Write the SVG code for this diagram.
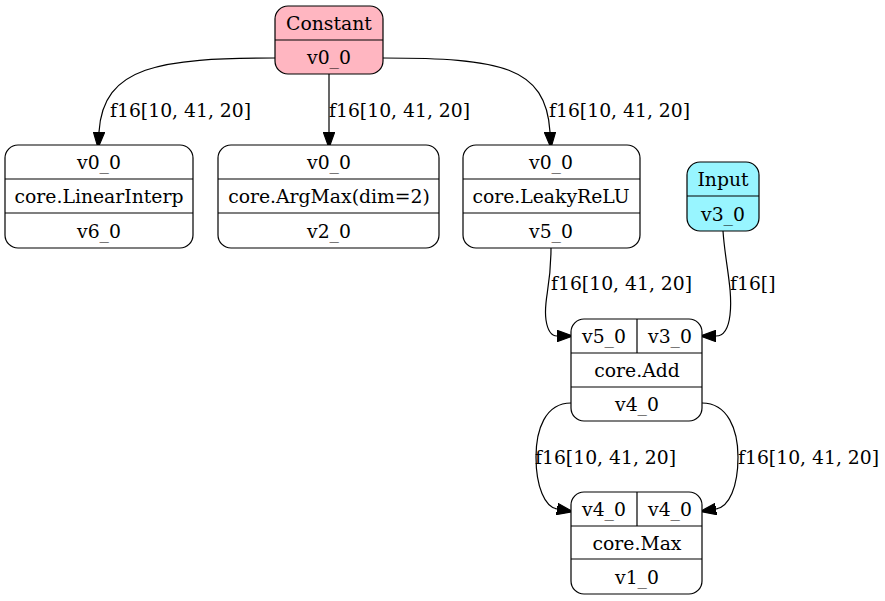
<svg xmlns="http://www.w3.org/2000/svg" width="885" height="601" viewBox="0 0 885 601">
<defs>
<style>
text{font-family:"DejaVu Serif","Liberation Serif",serif;font-size:18.8px;fill:#000}
.c{text-anchor:middle}
.box{fill:#fff;stroke:#000;stroke-width:1.2}
.ln{stroke:#000;stroke-width:1.2;fill:none}
.e{stroke:#000;stroke-width:1.2;fill:none;marker-end:url(#ah)}
</style>
<marker id="ah" markerUnits="userSpaceOnUse" markerWidth="16" markerHeight="12" refX="0" refY="5" orient="auto" viewBox="0 0 14 10">
<path d="M0,0 L14,5 L0,10 Z" fill="#000" stroke="#000"/>
</marker>
</defs>
<rect width="885" height="601" fill="#fff"/>
<g id="edges">
<path class="e" d="M275,58 C160,58 103,66 99,132"/>
<path class="e" d="M329,74 L329,132"/>
<path class="e" d="M383,58 C500,58 546,66 550,132"/>
<path class="e" d="M551,248 C551,290 543,300 546,320 C548,333 552,336 557,336"/>
<path class="e" d="M723,231 C725,262 733,290 730,315 C728,332 722,336 716,336"/>
<path class="e" d="M571,403 C545,403 536,430 536,457 C536,487 545,507 557,509"/>
<path class="e" d="M702,403 C728,403 738,430 738,457 C738,487 729,507 716,509"/>
<text x="110" y="117">f16[10, 41, 20]</text>
<text x="329" y="117">f16[10, 41, 20]</text>
<text x="549" y="117">f16[10, 41, 20]</text>
<text x="551" y="290">f16[10, 41, 20]</text>
<text x="730" y="290">f16[]</text>
<text x="535" y="464">f16[10, 41, 20]</text>
<text x="738" y="464">f16[10, 41, 20]</text>
</g>
<g id="constant">
<rect class="box" x="275" y="6" width="108" height="68" rx="13" style="fill:#ffb6c1"/>
<line class="ln" x1="275" y1="40" x2="383" y2="40"/>
<text class="c" x="329" y="30">Constant</text>
<text class="c" x="329" y="64">v0_0</text>
</g>
<g id="linearinterp">
<rect class="box" x="5" y="145" width="188" height="103" rx="13"/>
<line class="ln" x1="5" y1="179" x2="193" y2="179"/>
<line class="ln" x1="5" y1="213" x2="193" y2="213"/>
<text class="c" x="99" y="169">v0_0</text>
<text class="c" x="99" y="203">core.LinearInterp</text>
<text class="c" x="99" y="238">v6_0</text>
</g>
<g id="argmax">
<rect class="box" x="218" y="145" width="221" height="103" rx="13"/>
<line class="ln" x1="218" y1="179" x2="439" y2="179"/>
<line class="ln" x1="218" y1="213" x2="439" y2="213"/>
<text class="c" x="329" y="169">v0_0</text>
<text class="c" x="329" y="203">core.ArgMax(dim=2)</text>
<text class="c" x="329" y="238">v2_0</text>
</g>
<g id="leakyrelu">
<rect class="box" x="463" y="145" width="177" height="103" rx="13"/>
<line class="ln" x1="463" y1="179" x2="640" y2="179"/>
<line class="ln" x1="463" y1="213" x2="640" y2="213"/>
<text class="c" x="551" y="169">v0_0</text>
<text class="c" x="551" y="203">core.LeakyReLU</text>
<text class="c" x="551" y="238">v5_0</text>
</g>
<g id="input">
<rect class="box" x="687" y="162" width="72" height="69" rx="13" style="fill:#98f5ff"/>
<line class="ln" x1="687" y1="196" x2="759" y2="196"/>
<text class="c" x="723" y="186">Input</text>
<text class="c" x="723" y="221">v3_0</text>
</g>
<g id="add">
<rect class="box" x="571" y="319" width="131" height="102" rx="13"/>
<line class="ln" x1="571" y1="353" x2="702" y2="353"/>
<line class="ln" x1="571" y1="387" x2="702" y2="387"/>
<line class="ln" x1="637" y1="319" x2="637" y2="353"/>
<text class="c" x="604" y="343">v5_0</text>
<text class="c" x="670" y="343">v3_0</text>
<text class="c" x="637" y="377">core.Add</text>
<text class="c" x="637" y="411">v4_0</text>
</g>
<g id="max">
<rect class="box" x="571" y="492" width="131" height="102" rx="13"/>
<line class="ln" x1="571" y1="526" x2="702" y2="526"/>
<line class="ln" x1="571" y1="559" x2="702" y2="559"/>
<line class="ln" x1="637" y1="492" x2="637" y2="526"/>
<text class="c" x="604" y="516">v4_0</text>
<text class="c" x="670" y="516">v4_0</text>
<text class="c" x="637" y="550">core.Max</text>
<text class="c" x="637" y="584">v1_0</text>
</g>
</svg>
